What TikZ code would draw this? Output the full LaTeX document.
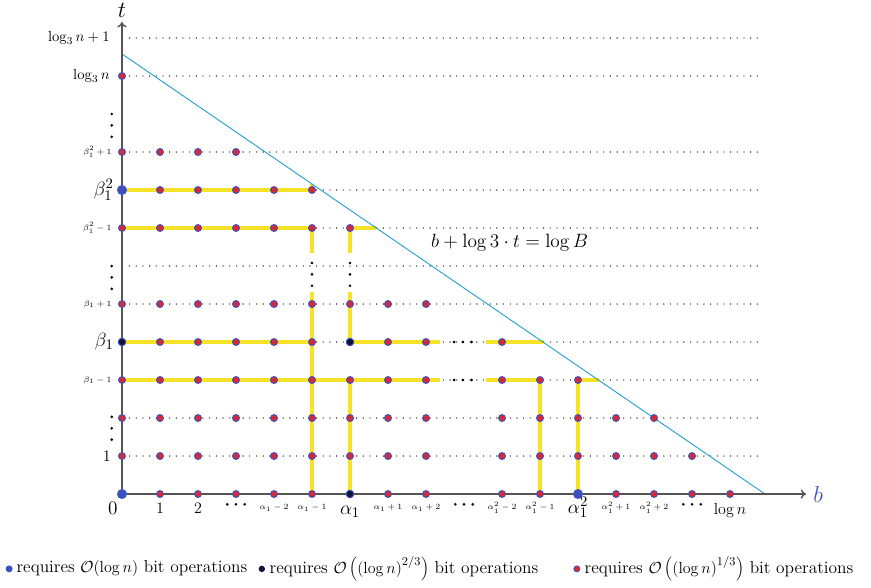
\documentclass[tikz,border=0pt]{standalone}
\usetikzlibrary{arrows.meta}

\definecolor{axisgray}{RGB}{85,85,85}
\definecolor{pathyellow}{RGB}{246,226,40}
\definecolor{lineblue}{RGB}{40,160,210}
\definecolor{ptblue}{RGB}{60,80,190}
\definecolor{ptred}{RGB}{215,40,55}
\definecolor{ptnavy}{RGB}{15,20,60}

\begin{document}
\begin{tikzpicture}[x=1cm, y=1cm, font=\fontsize{12}{14}\selectfont,
    gridrow/.style={black, line width=1pt, line cap=round, dash pattern=on 0pt off 5pt},
    yel/.style={pathyellow, line width=2.3pt},
    pt/.style={circle, fill=ptred, draw=ptblue, line width=0.7pt, inner sep=0pt, minimum size=5.2pt},
    navypt/.style={circle, fill=ptnavy, draw=ptblue, line width=0.7pt, inner sep=0pt, minimum size=5.6pt},
    bigpt/.style={circle, fill=ptblue, inner sep=0pt, minimum size=7.5pt},
    small/.style={font=\fontsize{6.2}{7}\selectfont, inner sep=0.5pt},
    big/.style={font=\fontsize{15}{17}\selectfont, inner sep=1pt},
    legtext/.style={anchor=west, inner sep=0pt, font=\fontsize{13}{15}\selectfont}]
    \useasboundingbox (-3.21,-2.447) rectangle (19.71,13.0);
    \def\lb{16.92} % where b + log3 t = log B meets the b axis
    \def\lt{11.58} % ... and the t axis

    % dotted rows
    \foreach \j in {1,2,3,4,5,6,7,8,9,11,12} {
      \draw[gridrow] (0.2,\j) -- (16.85,\j);
    }

    % yellow paths
    \draw[yel] (0,8) -- (5,8) -- (5,8.16);
    \draw[yel] (0,7) -- (5,7);
    \draw[yel] (6,7) -- (6.69,7);
    \draw[yel] (5,7) -- (5,6.33);
    \draw[yel] (5,5.32) -- (5,0);
    \draw[yel] (6,7) -- (6,6.33);
    \draw[yel] (6,5.32) -- (6,4);
    \draw[yel] (6,3) -- (6,0);
    \draw[yel] (0,4) -- (5,4);
    \draw[yel] (6,4) -- (8.37,4);
    \draw[yel] (9.58,4) -- (11.08,4);
    \draw[yel] (0,3) -- (8.37,3);
    \draw[yel] (9.58,3) -- (11,3) -- (11,0);
    \draw[yel] (12,0) -- (12,3) -- (12.54,3);

    % the line b + log3 t = log B
    \draw[lineblue, line width=0.7pt] (0,\lt) -- (\lb,0);
    \node[font=\fontsize{15}{17}\selectfont] (eq) at (10.2,6.62) {$b+\log 3\cdot t=\log B$};

    % axes
    \draw[axisgray, line width=1.1pt, -{To[length=4pt,width=7pt]}] (0,0) -- (18.0,0);
    \draw[axisgray, line width=1.1pt, -{To[length=4pt,width=7pt]}] (0,0) -- (0,12.42);
    \node[font=\fontsize{18}{20}\selectfont] (tlab) at (0,12.72) {$t$};
    \node[font=\fontsize{18}{20}\selectfont, text=ptblue] (blab) at (18.32,-0.02) {$b$};

    % vertical and horizontal dots
    \foreach \x/\y in {-0.27/10, -0.27/6, -0.27/2.03, 5/6.08, 6/6.08} {
      \foreach \d in {0, 0.3, 0.6}
        \fill (\x,\y-\d) circle (1.1pt);
    }
    \foreach \x/\y in {3/-0.27, 9/-0.27, 15/-0.27, 8.97/3, 8.97/4} {
      \foreach \d in {-0.23, 0, 0.23}
        \fill (\x+\d,\y) circle (1.1pt);
    }

    % grid points
    \foreach \j/\kmax in {0/16, 1/15, 2/14, 3/12, 4/10, 5/8, 7/6, 8/5, 9/3, 11/0} {
      \foreach \k in {0,...,\kmax} {
        \ifnum\k=9\else
          \node[pt] at (\k,\j) {};
        \fi
      }
    }
    \node[bigpt] (o) at (0,0) {};
    \node[bigpt] (bsq) at (0,8) {};
    \node[bigpt] (asq) at (12,0) {};
    \node[navypt] (b1) at (0,4) {};
    \node[navypt] (a1) at (6,0) {};
    \node[navypt] (ab) at (6,4) {};

    % t labels
    \node[anchor=east, font=\fontsize{11}{13}\selectfont] at (-0.2,12) {$\log_3 n+1$};
    \node[anchor=east, font=\fontsize{11}{13}\selectfont] at (-0.2,11) {$\log_3 n$};
    \node[anchor=east, small] at (-0.25,9) {$\beta_1^2+1$};
    \node[anchor=east, big] at (-0.18,8) {$\beta_1^2$};
    \node[anchor=east, small] at (-0.25,7) {$\beta_1^2-1$};
    \node[anchor=east, small] at (-0.25,5) {$\beta_1+1$};
    \node[anchor=east, big] at (-0.18,4) {$\beta_1$};
    \node[anchor=east, small] at (-0.25,3) {$\beta_1-1$};
    \node[anchor=east] at (-0.17,1) {$1$};

    % b labels
    \node[anchor=base, big] at (-0.24,-0.55) {$0$};
    \node[anchor=base] at (1,-0.5) {$1$};
    \node[anchor=base] at (2,-0.5) {$2$};
    \node[anchor=base, small] at (4,-0.42) {$\alpha_1-2$};
    \node[anchor=base, small] at (5,-0.42) {$\alpha_1-1$};
    \node[anchor=base, big] at (6,-0.55) {$\alpha_1$};
    \node[anchor=base, small] at (7,-0.42) {$\alpha_1+1$};
    \node[anchor=base, small] at (8,-0.42) {$\alpha_1+2$};
    \node[anchor=base, small] at (10,-0.42) {$\alpha_1^2-2$};
    \node[anchor=base, small] at (11,-0.42) {$\alpha_1^2-1$};
    \node[anchor=base, big] at (12,-0.5) {$\alpha_1^2$};
    \node[anchor=base, small] at (13,-0.42) {$\alpha_1^2+1$};
    \node[anchor=base, small] at (14,-0.42) {$\alpha_1^2+2$};
    \node[anchor=base, font=\fontsize{13}{15}\selectfont] at (16,-0.55) {$\log n$};

    % legend
    \fill[ptblue] (-2.97,-1.97) circle (2.6pt);
    \node[legtext] (leg1) at (-2.78,-1.97) {requires $\mathcal{O}(\log n)$ bit operations};
    \fill[ptnavy] (3.68,-1.97) circle (2.4pt);
    \node[legtext] (leg2) at (3.88,-1.97) {requires $\mathcal{O}\left(\left(\log n\right)^{2/3}\right)$ bit operations};
    \filldraw[fill=ptred, draw=ptblue, line width=0.5pt] (11.97,-1.97) circle (2.3pt);
    \node[legtext] (leg3) at (12.17,-1.97) {requires $\mathcal{O}\left(\left(\log n\right)^{1/3}\right)$ bit operations};

  \end{tikzpicture}
\end{document}
